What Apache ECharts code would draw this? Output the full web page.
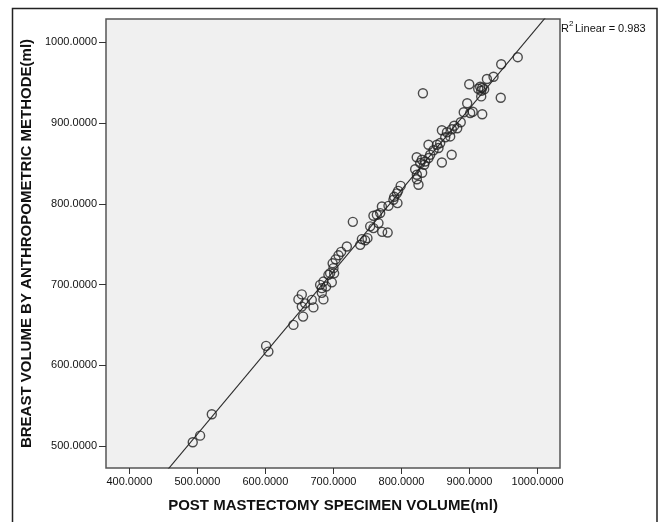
<!DOCTYPE html>
<html>
<head>
<meta charset="utf-8">
<script src="https://cdn.jsdelivr.net/npm/echarts@6/dist/echarts.min.js"></script>
<style>
html,body{margin:0;padding:0;background:#fff;}
#chart{width:663px;height:522px;}
</style>
</head>
<body>
<div id="chart"></div>
<script>
// Post mastectomy specimen volume (x, ml)
const specimenVolume = [
  970.9, 946.6, 935.3, 925.6, 899.6, 912.8, 915.7, 918.7, 921.6, 917.2,
  831.5, 945.9, 917.2, 896.6, 891.5, 901.0, 904.7, 918.7, 887.1, 881.9,
  877.5, 874.1, 871.6, 866.8, 859.4, 864.3, 856.9, 852.1, 839.7, 854.4,
  847.1, 842.2, 873.8, 859.4, 822.4, 830.0, 834.9, 827.5, 839.7, 833.4,
  820.1, 822.6, 830.4, 822.6, 825.0, 798.8, 795.1, 793.2, 789.3, 788.2,
  794.1, 771.2, 780.9, 763.8, 768.7, 758.8, 728.5, 754.0, 758.8, 766.2,
  771.6, 779.7, 741.8, 746.6, 750.0, 739.3, 719.7, 711.3, 707.4, 703.2,
  698.8, 700.0, 695.1, 701.0, 692.6, 685.3, 680.4, 682.9, 689.3, 697.6,
  682.9, 685.3, 653.5, 648.5, 653.5, 658.4, 668.2, 670.6, 655.4, 641.2,
  601.0, 604.4, 521.2, 504.0, 493.2
];
// Breast volume by anthropometric method (y, ml)
const anthropometricVolume = [
  981.7, 973.0, 957.5, 954.6, 948.2, 942.6, 945.1, 943.8, 942.0, 940.1,
  937.0, 931.4, 933.1, 924.6, 913.5, 912.5, 914.1, 911.0, 901.1, 893.6,
  896.7, 892.4, 883.5, 888.7, 891.1, 882.5, 875.3, 873.2, 873.2, 869.1,
  866.4, 860.8, 860.8, 851.2, 857.7, 854.6, 852.5, 850.5, 856.7, 848.4,
  842.8, 836.0, 838.5, 830.4, 823.6, 822.3, 816.1, 813.0, 808.7, 805.0,
  800.9, 796.7, 797.5, 786.4, 788.5, 785.2, 777.7, 772.1, 769.9, 776.1,
  765.3, 764.4, 756.3, 754.8, 757.5, 749.2, 747.1, 740.5, 736.2, 731.2,
  726.3, 720.3, 714.1, 713.9, 712.0, 703.7, 699.6, 695.5, 697.5, 702.7,
  689.7, 681.6, 687.8, 681.6, 672.7, 676.7, 681.0, 671.7, 660.3, 650.0,
  624.0, 616.9, 539.3, 512.8, 504.6
];
// Linear fit
const fitSlope = 1.0087;
const fitIntercept = 10.3;
const rSquaredText = "0.983";

const xTicks = [400, 500, 600, 700, 800, 900, 1000];
const yTicks = [500, 600, 700, 800, 900, 1000];
const xMin = 365.7, xMax = 1033;
const yMin = 472.7, yMax = 1029;

const points = specimenVolume.map((v, i) => [v, anthropometricVolume[i]]);
const fitLine = [[xMin - 50, fitSlope * (xMin - 50) + fitIntercept],
                 [xMax + 50, fitSlope * (xMax + 50) + fitIntercept]];

const FONT = '"Liberation Sans", Arial, sans-serif';
const chart = echarts.init(document.getElementById('chart'), null, {renderer: 'canvas'});
chart.setOption({
  animation: false,
  backgroundColor: '#ffffff',
  grid: {
    left: 106, top: 19, right: 103, bottom: 54,
    show: true, backgroundColor: '#f0f0f0',
    borderColor: '#555555', borderWidth: 1.5
  },
  xAxis: {
    type: 'value', min: xMin, max: xMax,
    name: 'POST MASTECTOMY SPECIMEN VOLUME(ml)',
    nameLocation: 'middle', nameGap: 30,
    nameTextStyle: {fontFamily: FONT, fontWeight: 'bold', fontSize: 15, color: '#111'},
    axisLine: {show: false},
    splitLine: {show: false},
    axisTick: {show: true, length: 6, customValues: xTicks, lineStyle: {color: '#333', width: 1}},
    axisLabel: {
      customValues: xTicks, margin: 8,
      formatter: v => Number(v).toFixed(4),
      fontFamily: FONT, fontSize: 11, color: '#111'
    }
  },
  yAxis: {
    type: 'value', min: yMin, max: yMax,
    name: 'BREAST VOLUME BY ANTHROPOMETRIC METHODE(ml)',
    nameLocation: 'middle', nameGap: 61,
    nameTextStyle: {fontFamily: FONT, fontWeight: 'bold', fontSize: 15, color: '#111'},
    axisLine: {show: false},
    splitLine: {show: false},
    axisTick: {show: true, length: 7, customValues: yTicks, lineStyle: {color: '#333', width: 1}},
    axisLabel: {
      customValues: yTicks, margin: 9,
      formatter: v => Number(v).toFixed(4),
      fontFamily: FONT, fontSize: 11, color: '#111'
    }
  },
  series: [
    {
      type: 'line',
      data: fitLine,
      clip: true,
      symbol: 'none',
      silent: true,
      lineStyle: {color: '#2a2a2a', width: 1.1},
      z: 2
    },
    {
      type: 'scatter',
      data: points,
      clip: true,
      symbol: 'circle',
      symbolSize: 9,
      itemStyle: {color: 'rgba(0,0,0,0)', borderColor: '#222', borderWidth: 1.4},
      z: 3
    }
  ],
  graphic: [
    {
      type: 'rect', silent: true, z: 100,
      shape: {x: 12.5, y: 8.5, width: 644.5, height: 540},
      style: {fill: 'none', stroke: '#222222', lineWidth: 1.5}
    },
    {
      type: 'text', left: 561, top: 23, z: 100,
      style: {text: 'R', font: '11px ' + FONT, fill: '#111'}
    },
    {
      type: 'text', left: 569, top: 20, z: 100,
      style: {text: '2', font: '8px ' + FONT, fill: '#111'}
    },
    {
      type: 'text', left: 575, top: 23, z: 100,
      style: {text: 'Linear = ' + rSquaredText, font: '11px ' + FONT, fill: '#111'}
    }
  ]
});
</script>
</body>
</html>
